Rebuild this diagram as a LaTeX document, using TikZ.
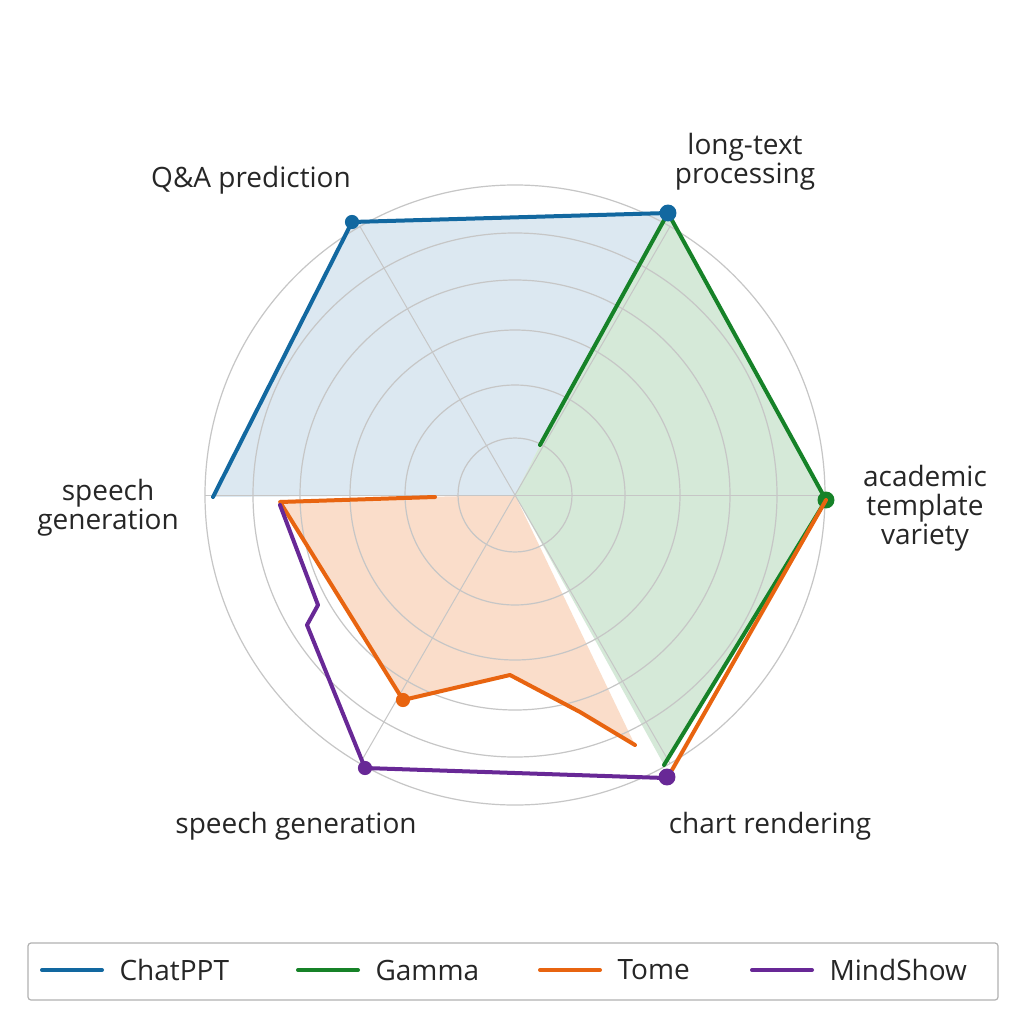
\documentclass[tikz,border=0pt]{standalone}
\usepackage{fontspec}
\setmainfont{Open Sans}
\begin{document}
\begin{tikzpicture}[x=1pt,y=-1pt,
  ring/.style={draw=gray!45,line width=1.2pt},
  spoke/.style={draw=gray!45,line width=1pt},
  lab/.style={font=\fontsize{28}{31}\selectfont,align=center,text=black!85},
  ser/.style={line width=4pt,line join=round,line cap=round},
  leg/.style={font=\fontsize{28}{31}\selectfont,anchor=west,text=black!85}]
\definecolor{cblue}{RGB}{18,104,160}
\definecolor{cgreen}{RGB}{22,130,40}
\definecolor{corange}{RGB}{232,100,16}
\definecolor{cpurple}{RGB}{104,40,150}
\fill[white] (0,0) rectangle (1024,1024);
\useasboundingbox (0,0) rectangle (1024,1024);
\coordinate (c) at (515,495);
% fills
\fill[cblue!15] (213,497) -- (352,222) -- (668,213) -- (540,445) -- (c) -- cycle;
\fill[cgreen!18] (540,445) -- (668,213) -- (826,500) -- (664,765) -- (c) -- cycle;
\fill[corange!22] (280,500) -- (403,700) -- (510,675) -- (580,712) -- (635,745) -- (c) -- cycle;
% grid
\foreach \r in {57,110,165,215,262,310} \draw[ring] (c) circle (\r);
\foreach \a in {0,60,...,300} \draw[spoke] (c) -- ++(\a:-310) ;
% series
\draw[ser,cblue] (213,497) -- (352,222) -- (668,213);
\node[circle,fill=cblue,inner sep=5pt] (p1) at (352,222) {};
\draw[ser,cgreen] (540,445) -- (668,213) -- (826,500) -- (664,765);
\node[circle,fill=cblue,inner sep=6pt] (p2) at (668,213) {};
\node[circle,fill=cgreen,inner sep=6pt] (p3) at (826,500) {};
\draw[ser,corange] (435,497) -- (280,502) -- (403,700) -- (510,675) -- (580,712) -- (635,745);
\draw[ser,corange] (826,500) -- (672,770);
\draw[ser,cpurple] (280,505) -- (318,605) -- (307,625) -- (365,768) -- (665,778);
\node[circle,fill=corange,inner sep=5pt] (p4) at (403,700) {};
\node[circle,fill=cpurple,inner sep=5pt] (p5) at (365,768) {};
\node[circle,fill=cpurple,inner sep=6pt] (p6) at (667,777) {};
% labels
\node[lab] (l1) at (251,180) {Q\&A prediction};
\node[lab] (l2) at (745,162) {long-text\\[-2pt]processing};
\node[lab] (l3) at (925,508) {academic\\[-2pt]template\\[-2pt]variety};
\node[lab] (l4) at (770,826) {chart rendering};
\node[lab] (l5) at (296,826) {speech generation};
\node[lab] (l6) at (108,508) {speech\\[-2pt]generation};
% legend
\draw[gray!60,line width=1.2pt,rounded corners=3pt] (28,943) rectangle (998,1000);
\draw[ser,cblue] (42,970) -- (102,970); \node[leg] (t1) at (116,970) {ChatPPT};
\draw[ser,cgreen] (298,970) -- (358,970); \node[leg] (t2) at (372,970) {Gamma};
\draw[ser,corange] (540,970) -- (600,970); \node[leg] (t3) at (614,970) {Tome};
\draw[ser,cpurple] (752,970) -- (812,970); \node[leg] (t4) at (826,970) {MindShow};
\end{tikzpicture}
\end{document}
